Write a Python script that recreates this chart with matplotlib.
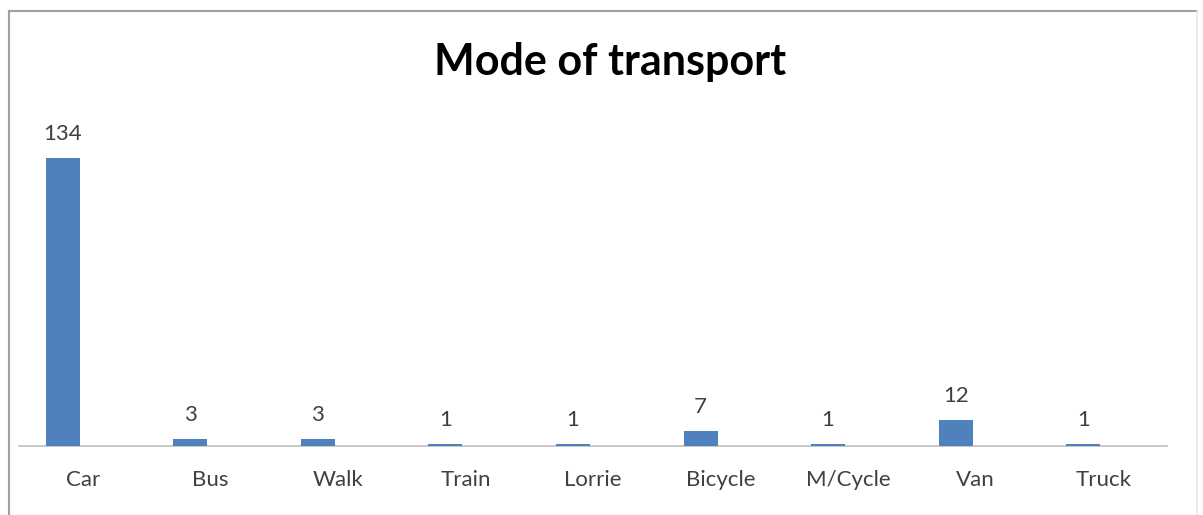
import matplotlib
matplotlib.use("Agg")
import matplotlib.pyplot as plt
from matplotlib.lines import Line2D

categories = ["Car", "Bus", "Walk", "Train", "Lorrie", "Bicycle", "M/Cycle", "Van", "Truck"]
values = [134, 3, 3, 1, 1, 7, 1, 12, 1]
title = "Mode of transport"

W, H = 1203, 515
fig = plt.figure(figsize=(W / 100, H / 100), dpi=100)
fig.patch.set_facecolor("white")

# axes placement in pixels
x0, x1 = 19, 1167
yb, yt = 445.7, 120
ax = fig.add_axes([x0 / W, (H - yb) / H, (x1 - x0) / W, (yb - yt) / H])
ymax = (yb - yt) / ((yb - 158) / 134)

n = len(categories)
xs = list(range(n))
bw = 0.267
off = -0.157
ax.bar([x + off for x in xs], values, width=bw, color="#4F81BD", zorder=3)
ax.set_xlim(-0.5, n - 0.5)
ax.set_ylim(0, ymax)

for x, v in zip(xs, values):
    ax.annotate(str(v), (x + off, v), xytext=(0, 10), textcoords="offset points",
                ha="center", va="bottom", fontsize=16, family="Lato", color="#404040")

ax.set_xticks(xs)
ax.set_xticklabels(categories, fontsize=16, family="Lato", color="#404040")
ax.tick_params(axis="x", length=0, pad=17.5)
ax.set_yticks([])
for s in ["top", "right", "left"]:
    ax.spines[s].set_visible(False)
ax.spines["bottom"].set_color("#BFBFBF")
ax.spines["bottom"].set_linewidth(1.2)
ax.set_facecolor("none")

fig.text(610 / W, 1 - 62 / H, title, ha="center", va="center",
         fontsize=31, fontweight="bold", family="Lato", color="black")

# outer chart border
fig.add_artist(Line2D([8.5 / W, 8.5 / W], [0, 1 - 11 / H], color="#A0A0A0", lw=1.5))
fig.add_artist(Line2D([8.5 / W, 1197 / W], [1 - 11 / H, 1 - 11 / H], color="#A0A0A0", lw=1.5))
fig.add_artist(Line2D([1197 / W, 1197 / W], [0, 1 - 11 / H], color="#E8E8E8", lw=1.2))

fig.savefig("out.png", dpi=100)
